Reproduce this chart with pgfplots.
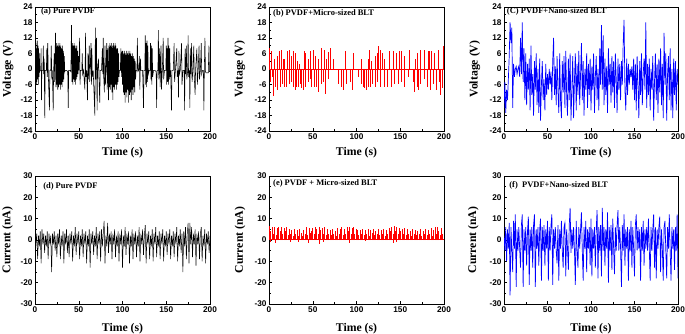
\documentclass[border=0pt]{standalone}
\usepackage{fontspec}
\setmainfont{Liberation Serif}
\setsansfont{Liberation Sans}
\usepackage{pgfplots}
\pgfplotsset{compat=1.18}
\pgfplotsset{
  panel/.style={
    scale only axis, width=175bp,
    xmin=0, xmax=200, xtick={0,50,100,150,200}, minor x tick num=1, minor y tick num=1,
    tick align=inside, xtick pos=left, ytick pos=left,
    major tick length=3bp, minor tick length=1.8bp,
    axis line style={line width=0.6bp}, every tick/.style={black, line width=0.5bp},
    /pgf/number format/assume math mode=true,
    ticklabel style={font=\sffamily\bfseries\fontsize{8.3}{9}\selectfont},
    xticklabel style={yshift=1bp},
    yticklabel style={xshift=1bp},
    label style={font=\bfseries\fontsize{11.8}{12}\selectfont},
    xlabel={Time (s)},
  },
  toprow/.style={height=124bp, ymin=-24, ymax=24, ytick={-24,-18,...,24}, ylabel={Voltage (V)},
    xlabel style={at={(axis description cs:0.5,-0.177)}, anchor=center}},
  botrow/.style={height=128bp, ymin=-30, ymax=30, ytick={-30,-20,...,30}, ylabel={Current (nA)},
    xlabel style={at={(axis description cs:0.5,-0.194)}, anchor=center}},
}
\tikzset{plab/.style={anchor=west, font=\bfseries\fontsize{8.5}{9}\selectfont, inner sep=0pt}}
\begin{document}
\begin{tikzpicture}
\useasboundingbox (0,0) rectangle (685bp,-334bp);
% (a)
\begin{axis}[panel, toprow, at={(35bp,-7bp)}, anchor=north west,
  ylabel style={at={(axis description cs:-0.154,0.5)}, anchor=center}]
\addplot[black, line width=0.55bp] coordinates {
(0,0)(0.3,9)(0.7,-4)(1,10)(1.4,-6)(1.8,8)(2.2,-5)(2.6,11)(3,-4)(3.4,9)(3.8,-6)(4.2,8)(4.6,-3)(5,6)(5.4,-1)
(6,-0.5)(6.5,-0.5)(7,8)(7.4,-12)(7.8,-0.5)(9,-0.5)(9.5,9)(10,-2)(10.5,4)(11.2,-19)(11.6,-0.5)(13,-0.5)(13.5,8)(14,-3)(14.6,10)(15.2,-2)(16.5,-16)(17,-0.5)(18,-0.5)(18.6,9)(19.2,-4)(19.8,-0.5)(20.8,-16)(21.3,-0.5)(22,6)(22.5,-5)(23.4,14)(24,-7)
(24.5,10)(25,-6)(25.5,9)(26,-8)(26.5,10)(27,-7)(27.5,9)(28,-6)(28.5,10)(29,-8)(29.5,9)(30,-6)(30.5,8)(31,-7)(31.5,9)(32,-5)(32.5,7)(33,-4)(33.5,5)(34,-1)
(35,-0.5)(36,-0.5)(37.4,-1)(38,-15)(38.5,-0.5)(40,-0.5)(41,-1)
(41.7,17)(42.2,-5)(42.7,10)(43.2,-6)(43.7,9)(44.2,-4)(44.7,10)(45.2,-5)(45.7,9)(46.2,-6)(46.7,8)(47.2,-4)(47.7,9)(48.2,-3)(48.7,7)(49.2,-2)(49.6,5)(50,-0.5)
(51,12)(51.5,-6)(52,-0.5)(53.5,-0.5)(54,6)(54.5,-2)(55.5,-0.5)(57,-8)(57.8,14)(58.3,-3)(59,-0.5)(60,-12)(60.5,6)(61,-4)(62,9)(62.5,-5)(63,-0.5)(64,10)(64.5,-6)(65,8)(65.5,-3)(66.5,-0.5)
(68.4,-18)(69,16)(69.5,-4)(70.3,12)(71,-16)(71.5,-0.5)(72.5,4)(73,-2)(74,-13)(74.5,-0.5)(76,-0.5)
(77,8)(77.5,-2)(78,12)(78.5,-3)(79.3,-9)(80,9)(80.5,-6)(81,-0.5)(82,10)(82.5,-8)(83.2,8)(84,-12)(84.5,9)
(85,-7)(85.5,10)(86,-8)(86.5,9)(87,-6)(87.5,10)(88,-9)(88.5,9)(89,-12)(89.5,10)(90,-7)(90.5,9)(91,-8)(91.5,10)(92,-6)(92.5,9)(93,-8)(93.5,8)(94,-6)(94.5,8)(95,-5)(95.5,6)(96,-3)(96.5,-0.5)(97.5,-0.5)(98.2,8)(98.7,-3)
(99.5,7)(100,-6)(100.5,7)(101,-9)(101.5,6)(102,-10)(102.5,7)(103,-13)(103.5,6)(104,-9)(104.5,7)(105,-11)(105.5,6)(106,-8)(106.5,7)(107,-13)(107.5,6)(108,-10)(108.5,7)(109,-9)(109.5,6)(110,-12)(110.5,5)(111,-8)(111.5,6)(112,-10)(112.5,5)(113,-7)(113.5,4)(114,-9)(114.5,3)(115,-4)(115.5,-0.5)
(116.5,-0.5)(117,12)(117.5,-1)(118.5,-0.5)(119.3,5)(119.8,-8)(120.5,4)(121,-0.5)(123,-0.5)(124,-15)(124.5,-0.5)(125.5,-0.5)(126,13)(126.5,-6)(127,10)(127.5,-7)(128,11)(128.5,-5)(129,9)(129.5,-2)(130.5,-0.5)(131.5,-0.5)(132,10)(132.5,-4)(133,9)(133.5,-6)(134,8)(134.5,-3)(135.5,-0.5)(137,-0.5)(138.5,-1)(139,-15)(139.5,-0.5)(140.5,-0.5)(141,15)(141.5,-4)(142.5,8)(143,-7)(144,9)(144.5,-8)(145.5,-0.5)(146.5,12)(147,-4)(148,-0.5)
(149.5,-0.5)(150,9)(150.5,-6)(151,8)(151.5,-5)(152,12)(152.5,-6)(153,9)(153.5,-4)(154,8)(154.5,-3)(155,-0.5)(156,-16)(156.5,-0.5)
(158,-0.5)(159,10)(159.5,-5)(160.5,-0.5)(162,8)(162.5,-3)(163.5,-0.5)(164,-11)(164.5,7)(165,-2)(166,-0.5)(167.5,10)(168,-6)(169,-0.5)(170.5,-0.5)(171,-16)(171.5,8)(172,-2)(173,9)(173.5,-4)(174.5,-0.5)(175,13)(175.5,-3)(176.5,-0.5)(177,-15)(177.5,8)(178,-2)(179,10)(179.5,-5)(180.5,-0.5)(181.5,9)(182,-3)(183,-10)(183.5,-0.5)(185,8)(185.5,-6)(186.5,-0.5)(187.5,9)(188,-4)(189,-0.5)(190,10)(190.5,-2)(191.5,-0.5)(192.5,-0.5)(193,-16)(193.5,-0.5)(194.2,12)(194.8,-1)(195.5,-1.5)(197,-1.5)(198,-1.5)(198.8,9)(199.3,-1)(200,-1)
};
\node[plab] at (axis description cs:0.034,0.96) {(a) Pure PVDF};
\end{axis}
% (b)
\begin{axis}[panel, toprow, at={(269bp,-7bp)}, anchor=north west,
  ylabel style={at={(axis description cs:-0.166,0.5)}, anchor=center}]
\addplot[red, line width=0.6bp] coordinates {(0,0)(200,0)};
\addplot[red, ycomb, line width=0.7bp] coordinates {
(0.8,8)(3,7)(5.7,4)(10,5)(12,7)(14.4,7.5)(16,4)(18,4)(21,7)(23.6,7.5)(26,5)(28,7)(30,6)(32,3)(35,2)(40,7)(42,6)(45,4)(47.5,7)(50.5,7.5)(52.5,5)(56,4)(60,8)(62.7,7.5)(65,4)(67.7,6.5)(70,8)(73,4)(87.5,7)(96,6)(105.7,4)(113,4)(115,7.5)(117,3)(121,5)(123.5,6)(125.5,9)(127.5,7.5)(130,6)(132,4)(138,7)(142.6,7)(145.6,6)(149.4,7)(151,7)(155,5)(160,7.5)(167.7,4)(170,6)(173,7.5)(178,7.5)(181.7,7)(183.6,7)(186,7)(188.6,6)(194,7.5)(198.9,9)
(1.5,-5)(3.3,-3)(5.3,-10.5)(7.6,-7)(9.5,-8)(12.5,-7)(14.7,-6)(17.5,-7)(20,-7)(23,-6)(25.8,-5)(28.3,-7)(30.3,-8)(31.5,-7)(33.5,-7)(35.4,-6)(37,-7.5)(39,-8)(41.5,-7)(44.7,-5)(46.8,-4)(48.7,-7)(51.7,-7)(53.6,-7)(56.3,-9)(59.7,-6)(62,-5)(64,-9.5)(67.4,-4)(79,-6)(83,-7)(85.5,-8)(88.6,-6)(92.4,-5)(95,-8)(102,-3)(105,-6)(107.6,-7)(109.5,-7.5)(111.4,-8)(113.3,-7)(116.3,-7)(118.6,-6)(121.3,-7)(124,-5)(127.8,-7)(131.5,-7)(135.4,-7)(140,-7)(142.9,-6)(147.5,-6)(151.3,-5)(154.4,-7)(159,-3)(165.4,-5)(166.5,-9)(169.2,-7)(171,-8)(173.4,-6)(177,-4)(181,-7)(183.9,-8)(187.5,-6)(191,-8)(194.3,-5)(195.8,-10)(197.7,-7.5)
};
\node[plab] at (axis description cs:0.023,0.944) {(b) PVDF+Micro-sized BLT};
\end{axis}
% (c)
\begin{axis}[panel, toprow, width=174bp, at={(504bp,-7bp)}, anchor=north west,
  ylabel style={at={(axis description cs:-0.167,0.5)}, anchor=center}]
\addplot[blue, line width=0.7bp] coordinates {
(0,-15)(1,-5)(2,-17)(3,-8)(4,-12)(5,-4)(6,5)(7,18)(8,10)(9,16)(10,-15)(11,2)(12,-3)(13,0)(14,1)(15,-2)(16,0)(17,1)(18,-3)(19,12)(20,-2)(21,18)(22,-5)(23,8)(24,-12)(25,6)(26,-14)(27,2)(28,-8)(29,4)(30,-16)(31,9)(32,-10)(33,-2)(34,-18)(35,3)(36,-8)(37,6)(38,-14)(39,0)(40,-17)(41,4)(42,-20)(43,-6)(44,3)(45,-12)(46,-4)(47,-16)(48,2)(49,-10)(50,-2)
(51,-8)(52,0)(53,-6)(54,-1)(55,-12)(56,3)(57,12)(58,-10)(59,1)(60,-14)(61,5)(62,-8)(63,-17)(64,6)(65,-12)(66,-19)(67,3)(68,-9)(69,5)(70,-15)(71,7)(72,-10)(73,-18)(74,4)(75,-12)(76,6)(77,-20)(78,-8)(79,5)(80,-19)(81,-4)(82,6)(83,-16)(84,2)(85,-10)(86,7)(87,-14)(88,-2)(89,10)(90,-12)(91,3)(92,-18)(93,0)(94,-8)(95,6)(96,-15)(97,2)(98,-10)(99,4)(100,-16)
(101,1)(102,-8)(103,6)(104,-17)(105,-3)(106,5)(107,-12)(108,0)(109,-16)(110,8)(111,-6)(112,17)(113,-8)(114,13)(115,-14)(116,4)(117,-10)(118,1)(119,-17)(120,8)(121,-6)(122,2)(123,-13)(124,5)(125,-9)(126,3)(127,-15)(128,6)(129,-4)(130,-17)(131,4)(132,-8)(133,2)(134,-12)(135,3)(136,-6)(137,10)(138,19)(139,-8)(140,-16)(141,4)(142,-10)(143,2)(144,-6)(145,0)(146,-3)(147,1)(148,-8)(149,4)(150,-12)
(151,2)(152,-16)(153,5)(154,-6)(155,-19)(156,3)(157,-10)(158,6)(159,-14)(160,-2)(161,4)(162,-8)(163,18)(164,-15)(165,2)(166,-10)(167,4)(168,-16)(169,0)(170,-8)(171,5)(172,-20)(173,-5)(174,6)(175,-12)(176,2)(177,-17)(178,4)(179,-9)(180,8)(181,-14)(182,2)(183,-19)(184,14)(185,-6)(186,6)(187,-20)(188,-2)(189,5)(190,-12)(191,8)(192,-16)(193,0)(194,-19)(195,4)(196,-10)(197,3)(198,-16)(199,0)(200,-6)
};
\node[plab] at (axis description cs:0.016,0.962) {(C) PVDF+Nano-sized BLT};
\end{axis}
% (d)
\begin{axis}[panel, botrow, at={(35bp,-176bp)}, anchor=north west,
  ylabel style={at={(axis description cs:-0.157,0.5)}, anchor=center}]
\addplot[black, line width=0.5bp] coordinates {
(0,1)(1,-2)(2,3)(3,-9)(4,2)(5,-3)(6,4)(7,-11)(8,5)(9,-2)(10,3)(11,-6)(12,2)(13,-3)(14,4)(15,-9)(16,3)(17,-2)(18,2)(19,-15)(20,3)(21,-2)(22,4)(23,-5)(24,2)(25,-8)(26,3)(27,-2)(28,5)(29,-9)(30,2)(31,-3)(32,4)(33,-11)(34,3)(35,-2)(36,5)(37,-6)(38,2)(39,-8)(40,3)(41,-2)(42,4)(43,-10)(44,2)(45,-3)(46,6)(47,-7)(48,3)(49,-2)(50,4)
(51,-9)(52,2)(53,-3)(54,5)(55,-8)(56,3)(57,-2)(58,4)(59,-11)(60,2)(61,-3)(62,5)(63,-13)(64,3)(65,-2)(66,4)(67,-7)(68,2)(69,-3)(70,6)(71,-9)(72,3)(73,-2)(74,4)(75,-10)(76,5)(77,-3)(78,3)(79,9)(80,-11)(81,2)(82,-3)(83,8)(84,-6)(85,3)(86,-2)(87,4)(88,-9)(89,3)(90,-2)(91,5)(92,-8)(93,2)(94,-3)(95,4)(96,-10)(97,3)(98,-2)(99,5)(100,-13)
(101,2)(102,-3)(103,6)(104,-7)(105,3)(106,-2)(107,4)(108,-11)(109,2)(110,-3)(111,5)(112,-9)(113,3)(114,-2)(115,4)(116,-8)(117,2)(118,-3)(119,6)(120,-10)(121,3)(122,-2)(123,5)(124,-7)(125,2)(126,7)(127,-11)(128,3)(129,-2)(130,4)(131,-9)(132,2)(133,-3)(134,5)(135,-10)(136,3)(137,-2)(138,6)(139,-8)(140,2)(141,-3)(142,4)(143,-9)(144,3)(145,-2)(146,5)(147,-10)(148,2)(149,-3)(150,4)
(151,-7)(152,3)(153,-2)(154,5)(155,-9)(156,2)(157,-3)(158,4)(159,-8)(160,3)(161,-2)(162,6)(163,-10)(164,2)(165,-3)(166,5)(167,-6)(168,3)(169,-15)(170,4)(171,-3)(172,6)(173,-9)(174,3)(175,8)(176,-11)(177,8)(178,-2)(179,6)(180,-8)(181,3)(182,-2)(183,5)(184,-12)(185,3)(186,-2)(187,4)(188,-9)(189,3)(190,6)(191,-10)(192,2)(193,-3)(194,5)(195,-11)(196,3)(197,-2)(198,4)(199,-6)(200,2)
};
\node[plab] at (axis description cs:0.046,0.92) {(d) Pure PVDF};
\end{axis}
% (e)
\begin{axis}[panel, botrow, at={(269bp,-176bp)}, anchor=north west,
  ylabel style={at={(axis description cs:-0.166,0.5)}, anchor=center}]
\addplot[red, line width=0.6bp] coordinates {(0,0.5)(200,0.5)};
\addplot[red, ycomb, line width=0.6bp] coordinates {
(0.5,6.5)(2,4)(3.5,6)(5,3)(6.5,6)(8,2.5)(9.5,5.5)(11,6)(12.5,4)(14,6)(15.5,3)(17,5.5)(18.5,4)(20,6)(21.5,2.5)(23,5)(24.5,3)(26,4.5)(27.5,2)(29,5)(30.5,3)(32,4.5)(33.5,2)(35,5)(36.5,3.5)(38,2)(39.5,4.5)(41,3)(42.5,6)(44,2.5)(45.5,5.5)(47,3.5)(48.5,4)(50,5.5)
(51.5,3)(53,6)(54.5,5)(56,3)(57.5,6)(59,4.5)(60.5,5.5)(62,3)(63.5,6)(65,2.5)(66.5,5)(68,3)(69.5,4.5)(71,2.5)(72.5,5)(74,3)(75.5,4)(77,2)(78.5,5.5)(80,3)(81.5,5)(83,6)(84.5,2.5)(86,5)(87.5,3)(89,6)(90.5,4)(92,6)(93.5,3)(95,5.5)(96.5,6)(98,3)(99.5,5)
(101,4.5)(102.5,2.5)(104,4.5)(105.5,3)(107,5)(108.5,2.5)(110,4.5)(111.5,3)(113,5)(114.5,2)(116,4.5)(117.5,3.5)(119,5)(120.5,2.5)(122,4)(123.5,3)(125,5)(126.5,2.5)(128,4.5)(129.5,3)(131,5)(132.5,2)(134,4.5)(135.5,3)(137,5.5)(138.5,4)(140,6)(141.5,3)(143,6.5)(144.5,4)(146,6)(147.5,3)(149,5.5)
(150.5,4)(152,5)(153.5,3)(155,5.5)(156.5,2.5)(158,5)(159.5,3)(161,4)(162.5,2)(164,5)(165.5,3)(167,4.5)(168.5,2.5)(170,4)(171.5,3)(173,5)(174.5,2)(176,4)(177.5,3)(179,5)(180.5,2.5)(182,4.5)(183.5,3)(185,5.5)(186.5,2)(188,4.5)(189.5,6)(191,3)(192.5,6)(194,4)(195.5,2.5)(197,5.5)(198.5,3)
(1,-1)(7,-1.5)(24,-1)(34,-1)(45,-1.5)(58,-2)(62,-1)(92,-1.5)(110,-0.5)(142,-1.5)(146,-1)
};
\node[plab] at (axis description cs:0.023,0.94) {(e) PVDF + Micro-sized BLT};
\end{axis}
% (f)
\begin{axis}[panel, botrow, width=174bp, at={(504bp,-176bp)}, anchor=north west,
  ylabel style={at={(axis description cs:-0.177,0.5)}, anchor=center}]
\addplot[blue, line width=0.7bp] coordinates {
(0,2)(1,-5)(2,6)(3,-10)(4,5)(5,-4)(6,8)(7,-26)(8,6)(9,-5)(10,-15)(11,9)(12,-4)(13,12)(14,-22)(15,5)(16,-5)(17,6)(18,-4)(19,-13)(20,7)(21,12)(22,-22)(23,5)(24,-5)(25,6)(26,-12)(27,4)(28,11)(29,-21)(30,5)(31,-5)(32,6)(33,-13)(34,7)(35,12)(36,-22)(37,5)(38,-4)(39,6)(40,-12)(41,5)(42,10)(43,-19)(44,6)(45,-5)(46,7)(47,-12)(48,5)(49,-4)(50,9)
(51,-19)(52,6)(53,-5)(54,7)(55,12)(56,-21)(57,5)(58,-4)(59,6)(60,-5)(61,-11)(62,7)(63,-19)(64,5)(65,-4)(66,9)(67,-5)(68,-13)(69,6)(70,8)(71,-17)(72,5)(73,-4)(74,-14)(75,7)(76,15)(77,-6)(78,5)(79,-4)(80,6)(81,-5)(82,-21)(83,9)(84,-5)(85,-13)(86,6)(87,-4)(88,5)(89,13)(90,-5)(91,-19)(92,6)(93,-4)(94,9)(95,-15)(96,5)(97,-4)(98,6)(99,-12)(100,10)
(101,-17)(102,5)(103,-4)(104,6)(105,-13)(106,5)(107,14)(108,-18)(109,6)(110,-5)(111,7)(112,-17)(113,15)(114,-5)(115,6)(116,-12)(117,5)(118,-4)(119,13)(120,-20)(121,6)(122,-5)(123,7)(124,-14)(125,10)(126,-4)(127,-16)(128,6)(129,-5)(130,7)(131,14)(132,-5)(133,6)(134,-4)(135,-22)(136,7)(137,-5)(138,12)(139,-12)(140,5)(141,-4)(142,6)(143,-19)(144,5)(145,-5)(146,9)(147,-13)(148,6)(149,-4)(150,-17)
(151,7)(152,12)(153,-5)(154,6)(155,-4)(156,5)(157,-19)(158,6)(159,-5)(160,9)(161,-12)(162,5)(163,-4)(164,6)(165,-5)(166,10)(167,-4)(168,-19)(169,6)(170,-5)(171,5)(172,12)(173,-13)(174,6)(175,-18)(176,5)(177,-4)(178,6)(179,11)(180,-15)(181,5)(182,-4)(183,-19)(184,6)(185,9)(186,-5)(187,-18)(188,6)(189,-4)(190,12)(191,-5)(192,-19)(193,6)(194,-4)(195,5)(196,-14)(197,6)(198,-5)(199,12)(200,-18)
};
\node[plab] at (axis description cs:0.03,0.927) {(f)\ \ PVDF+Nano-sized BLT};
\end{axis}
\end{tikzpicture}
\end{document}
